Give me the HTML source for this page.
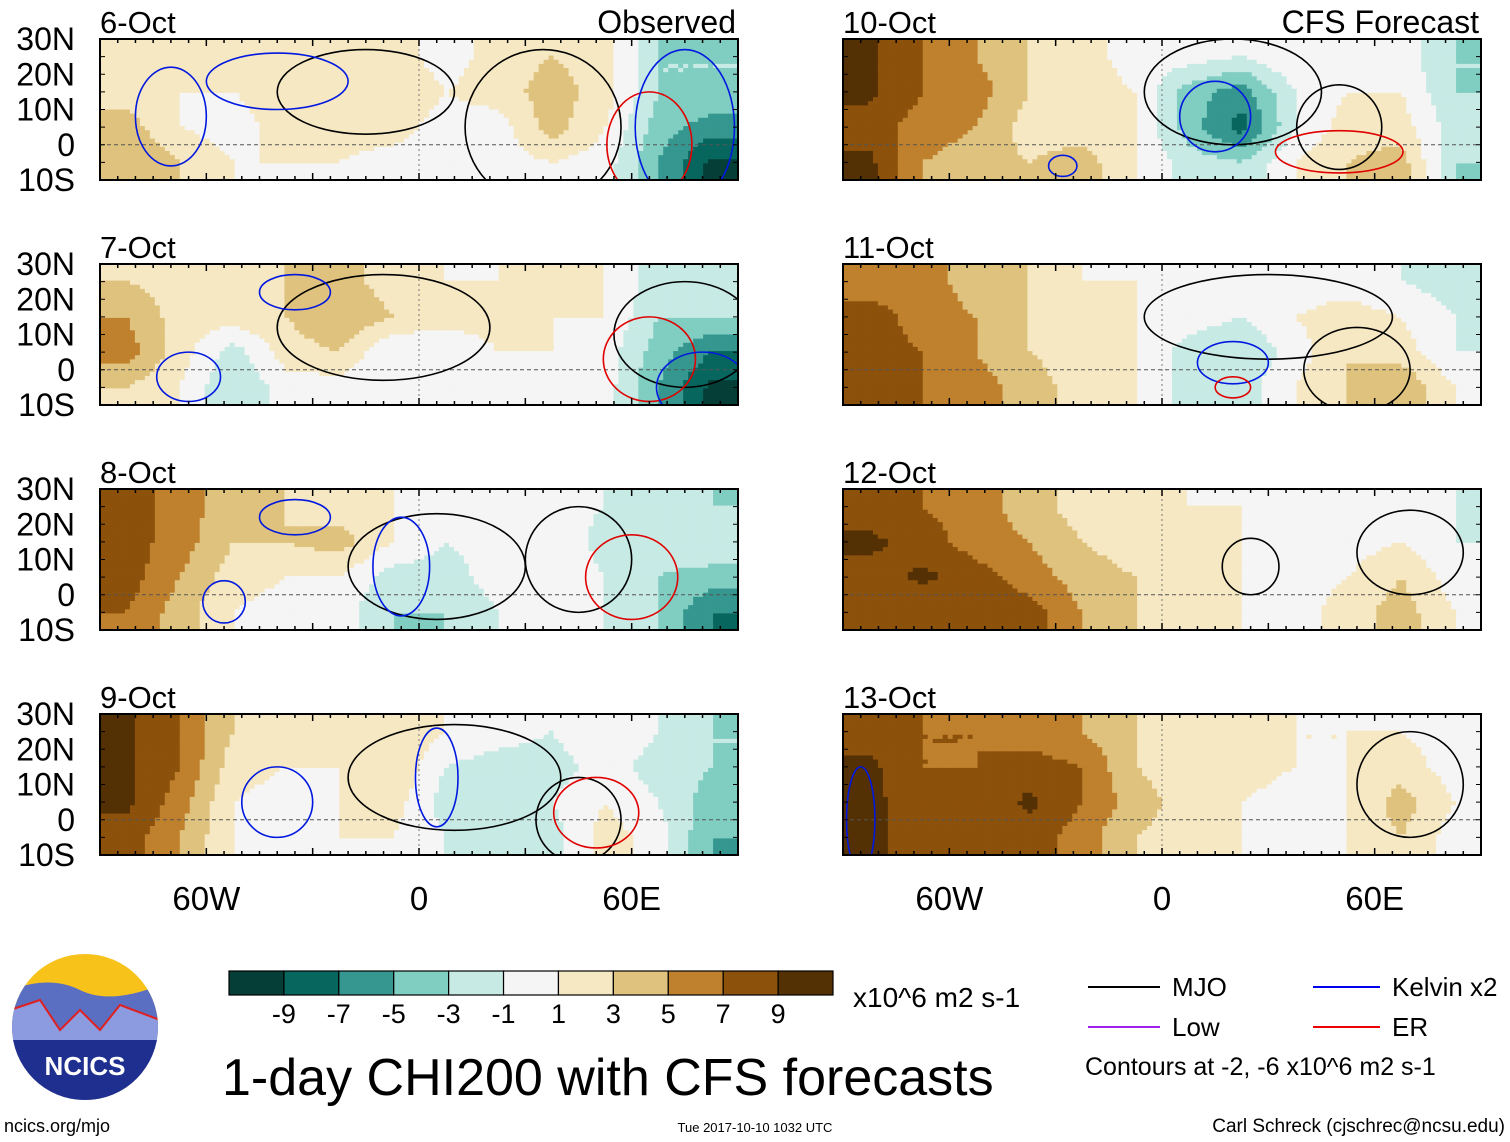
<!DOCTYPE html>
<html><head><meta charset="utf-8">
<style>
body{margin:0;background:#fff;width:1510px;height:1142px;overflow:hidden;font-family:"Liberation Sans",sans-serif}
svg{position:absolute;left:0;top:0}
</style></head>
<body>
<svg id="fig" width="1510" height="1142" xmlns="http://www.w3.org/2000/svg"></svg>
<script>
// ---- data ----
const panelTitles = ["6-Oct","7-Oct","8-Oct","9-Oct","10-Oct","11-Oct","12-Oct","13-Oct"];
const lonCenters = [-82.5,-67.5,-52.5,-37.5,-22.5,-7.5,7.5,22.5,37.5,52.5,67.5,82.5];
const latCenters = [25,15,5,-5];
const chi_6oct = [[2,2,1,2,2,2,0,2,3,2,-3,-3],[2,1,1,2,3,3,1,2,4,2,-3,-3],[4,1,0,2,2,2,0,0,4,1,-4,-6],[5,3,1,1,1,0,0,0,1,0,-5,-9.5]];
const chi_7oct = [[3,2,2,3,4,2,1,1,2,1,-2,-2],[5,2,2,3,5,3,2,2,1,1,-3,-3],[6,2,-2,2,3,-1,-1,1,1,0,-4,-7],[3,1,-3,0,0,-1,0,0,0,0,-5,-9.5]];
const chi_8oct = [[8,6,4,3,2,1,0,0,0,-1,-2,-3],[8,6,3,3,4,1,-1,0,1,-2,-2,-1],[8,5,2,1,1,-2,-2,0,1,-1,-3,-4],[7,4,1,0,0,-3,-3,-1,0,-1,-3,-7]];
const chi_9oct = [[9.5,7,3,2,2,3,1,0,-1,1,-1,-3],[9.5,7,2,1,1,3,-1,-2,-2,0,-2,-3],[9.5,6,1,0,1,2,-2,-2,-1,1,-1,-4],[8,5,1,-1,1,1,-1,-2,-2,2,0,-5]];
const chi_10oct = [[9.5,7,5,3,2,0,0,-1,1,0,0,-3],[9.5,7,6,3,2,1,-4,-6,-1,1,1,-3],[8,6,5,2,2,1,-4,-8,-1,2,2,-2],[9.5,5,4,3,4,1,-2,-3,1,3,4,-3]];
const chi_11oct = [[6,6,4,3,1,1,0,0,0,0,-1,-2],[8,6,5,3,2,1,0,-1,1,2,1,-1],[8,7,5,3,2,1,-2,-3,0,3,2,-1],[8,7,6,4,2,1,-2,-2,1,3,5,1]];
const chi_12oct = [[8,7,6,4,2,2,1,1,0,0,0,-1],[9.5,8,6,5,3,2,2,1,0,0,1,-1],[8,9.5,8,6,4,3,2,1,0,1,3,0],[8,7,8,8,5,3,2,1,0,2,4,1]];
const chi_13oct = [[8,7,7,6,5,3,2,2,1,1,1,0],[9.5,7,7,8,7,3,2,2,1,1,2,0],[9.5,8,7,9.5,7,4,2,1,0,1,4,1],[9.5,8,7,8,6,3,2,1,0,1,3,0]];
const panelData = [chi_6oct,chi_7oct,chi_8oct,chi_9oct,chi_10oct,chi_11oct,chi_12oct,chi_13oct];
// contour loops: [type, lonCenter, latCenter, lonRadius, latRadius]
const contours_6oct = [["mjo",-15,15,25,12],["mjo",35,5,22,22],["kelvin",-40,18,20,8],["er",65,0,12,15],["kelvin",75,5,14,22],["kelvin",-70,8,10,14]];
const contours_7oct = [["mjo",-10,12,30,15],["mjo",75,10,20,15],["er",65,3,13,12],["kelvin",-65,-2,9,7],["kelvin",80,-5,13,10],["kelvin",-35,22,10,5]];
const contours_8oct = [["mjo",5,8,25,15],["mjo",45,10,15,15],["er",60,5,13,12],["kelvin",-55,-2,6,6],["kelvin",-35,22,10,5],["kelvin",-5,8,8,14]];
const contours_9oct = [["mjo",10,12,30,15],["mjo",45,0,12,12],["er",50,2,12,10],["kelvin",-40,5,10,10],["kelvin",5,12,6,14]];
const contours_10oct = [["mjo",20,15,25,15],["kelvin",15,8,10,10],["mjo",50,5,12,12],["er",50,-2,18,6],["kelvin",-28,-6,4,3]];
const contours_11oct = [["mjo",30,15,35,12],["kelvin",20,2,10,6],["er",20,-5,5,3],["mjo",55,0,15,12]];
const contours_12oct = [["mjo",25,8,8,8],["mjo",70,12,15,12]];
const contours_13oct = [["kelvin",-85,0,4,15],["mjo",70,10,15,15]];
const panelContours = [contours_6oct,contours_7oct,contours_8oct,contours_9oct,contours_10oct,contours_11oct,contours_12oct,contours_13oct];
const contourColors = {mjo:"#000",kelvin:"#0018e0",er:"#e00000"};
const levelBounds = [-9,-7,-5,-3,-1,1,3,5,7,9];
const levelLabels = ["-9","-7","-5","-3","-1","1","3","5","7","9"];
const levelColors = ["#053e37","#07665e","#35978f","#80cdc1","#c7eae5","#f5f5f5","#f6e8c3","#dfc27d","#bf812d","#8c510a","#543005"];
const latTicks = ["30N","20N","10N","0","10S"];
const lonTicks = [{v:-60,t:"60W"},{v:0,t:"0"},{v:60,t:"60E"}];

const NS="http://www.w3.org/2000/svg";
const svg=document.getElementById('fig');
function mk(tag,attrs,parent){const e=document.createElementNS(NS,tag);for(const k in attrs)e.setAttribute(k,attrs[k]);(parent||svg).appendChild(e);return e;}
function txt(s,attrs,parent){const e=mk('text',attrs,parent);e.textContent=s;return e;}
function colorFor(v){let i=0;while(i<levelBounds.length&&v>levelBounds[i])i++;return levelColors[i];}
function interp(d,lon,lat){
  let fx=(lon-lonCenters[0])/15, fy=(latCenters[0]-lat)/10;
  fx=Math.max(0,Math.min(lonCenters.length-1,fx)); fy=Math.max(0,Math.min(latCenters.length-1,fy));
  const x0=Math.floor(fx),y0=Math.floor(fy),x1=Math.min(x0+1,lonCenters.length-1),y1=Math.min(y0+1,latCenters.length-1);
  const tx=fx-x0,ty=fy-y0;
  return d[y0][x0]*(1-tx)*(1-ty)+d[y0][x1]*tx*(1-ty)+d[y1][x0]*(1-tx)*ty+d[y1][x1]*tx*ty;
}
const PW=638,PH=141;
const lefts=[100,843], tops=[39,264,489,714];
for(let p=0;p<8;p++){
  const col=p<4?0:1,row=p%4;
  const X0=lefts[col],Y0=tops[row];
  const xs=lon=>X0+(lon+90)/180*PW;
  const ys=lat=>Y0+(30-lat)/40*PH;
  const g=mk('g',{});
  
  
  const d=panelData[p];
  const nx=128,ny=34,cw=PW/nx,ch=PH/ny;
  for(let j=0;j<ny;j++)for(let i=0;i<nx;i++){
    const lon=-90+(i+0.5)*180/nx, lat=30-(j+0.5)*40/ny;
    const c=colorFor(interp(d,lon,lat));
    const r=mk('rect',{x:(xs(-90+i*180/nx)).toFixed(2),y:(ys(30-j*40/ny)).toFixed(2),width:(cw+0.6).toFixed(2),height:(ch+0.6).toFixed(2),fill:c},g);
    
    
  }
  mk('line',{x1:X0,x2:X0+PW,y1:ys(0),y2:ys(0),stroke:'#555','stroke-dasharray':'4 3','stroke-width':1},g);
  mk('line',{x1:xs(0),x2:xs(0),y1:Y0,y2:Y0+PH,stroke:'#777','stroke-dasharray':'2 3','stroke-width':1},g);
  const clipId='clip'+p;
  const cp=mk('clipPath',{id:clipId},g);mk('rect',{x:X0,y:Y0,width:PW,height:PH},cp);
  const cg=mk('g',{'clip-path':'url(#'+clipId+')'},g);
  panelContours[p].forEach(c=>{
    const e=mk('ellipse',{cx:xs(c[1]),cy:ys(c[2]),rx:c[3]/180*PW,ry:c[4]/40*PH,fill:'none',stroke:contourColors[c[0]],'stroke-width':1.6},cg);
    
    
  });
  const fr=mk('rect',{x:X0,y:Y0,width:PW,height:PH,fill:'none',stroke:'#000','stroke-width':2},g);
  
  for(let lon=-90;lon<=90;lon+=5){const L=lon%30===0?7:4;
    mk('line',{x1:xs(lon),x2:xs(lon),y1:Y0,y2:Y0+L,stroke:'#000','stroke-width':1.5},g);
    mk('line',{x1:xs(lon),x2:xs(lon),y1:Y0+PH,y2:Y0+PH-L,stroke:'#000','stroke-width':1.5},g);}
  for(let lat=-10;lat<=30;lat+=5){mk('line',{x1:X0,x2:X0+5,y1:ys(lat),y2:ys(lat),stroke:'#000'},g);mk('line',{x1:X0+PW,x2:X0+PW-5,y1:ys(lat),y2:ys(lat),stroke:'#000'},g);}
  const t=txt(panelTitles[p],{x:X0,y:Y0-6,'font-size':31},g);
  
  if(row===0){const h=txt(col?"CFS Forecast":"Observed",{x:X0+PW-2,y:Y0-6,'font-size':32,'text-anchor':'end'},g);
    }
  if(col===0){latTicks.forEach((s,k)=>{const e=txt(s,{x:75,y:Y0+k*PH/4+11,'font-size':32,'text-anchor':'end'},g);
    });}
  if(row===3){lonTicks.forEach(o=>{const e=txt(o.t,{x:xs(o.v),y:910,'font-size':33,'text-anchor':'middle'},g);
    });}
}
// colorbar
const cb=mk('g',{});

const cbX=229,cbW=604/11;
levelColors.forEach((c,i)=>{const r=mk('rect',{x:cbX+i*cbW,y:971,width:cbW,height:24,fill:c,stroke:'#000','stroke-width':1.2},cb);
  });
levelLabels.forEach((s,i)=>{const e=txt(s,{x:cbX+(i+1)*cbW,y:1023,'font-size':27,'text-anchor':'middle'},cb);
  });
</script>
<svg width="1510" height="1142" style="pointer-events:none">
  <text x="853" y="1007" font-size="28" font-family="Liberation Sans">x10^6 m2 s-1</text>
  <text x="222" y="1095" font-size="52" font-family="Liberation Sans">1-day CHI200 with CFS forecasts</text>
  <g font-family="Liberation Sans" font-size="26">
    <line x1="1088" x2="1160" y1="987" y2="987" stroke="#000" stroke-width="2"/><text x="1172" y="996">MJO</text>
    <line x1="1313" x2="1380" y1="987" y2="987" stroke="#0000ee" stroke-width="2"/><text x="1392" y="996">Kelvin x2</text>
    <line x1="1088" x2="1160" y1="1027" y2="1027" stroke="#a020f0" stroke-width="2"/><text x="1172" y="1036">Low</text>
    <line x1="1313" x2="1380" y1="1027" y2="1027" stroke="#ee0000" stroke-width="2"/><text x="1392" y="1036">ER</text>
    <text x="1085" y="1075" font-size="25">Contours at -2, -6 x10^6 m2 s-1</text>
  </g>
  <g>
    <clipPath id="lc"><circle cx="85" cy="1027" r="73"/></clipPath>
    <g clip-path="url(#lc)">
      <rect x="10" y="950" width="150" height="160" fill="#f7c21a"/>
      <path d="M10 990 Q50 975 80 990 T160 985 L160 1110 L10 1110Z" fill="#5a6fc2"/>
      <path d="M10 1010 L40 1000 L60 1030 L80 1010 L100 1030 L120 1005 L160 1020 L160 1110 L10 1110Z" fill="#8c9be0" stroke="#e02020" stroke-width="2"/>
      <rect x="10" y="1040" width="150" height="70" fill="#1f2f8f"/>
    </g>
    <text x="85" y="1075" font-size="26" font-weight="bold" fill="#fff" text-anchor="middle" font-family="Liberation Sans">NCICS</text>
  </g>
  <text x="4" y="1132" font-size="18" font-family="Liberation Sans">ncics.org/mjo</text>
  <text x="755" y="1132" font-size="13" text-anchor="middle" font-family="Liberation Sans">Tue 2017-10-10 1032 UTC</text>
  <text x="1505" y="1132" font-size="19" text-anchor="end" font-family="Liberation Sans">Carl Schreck (cjschrec@ncsu.edu)</text>
</svg>
</body></html>
